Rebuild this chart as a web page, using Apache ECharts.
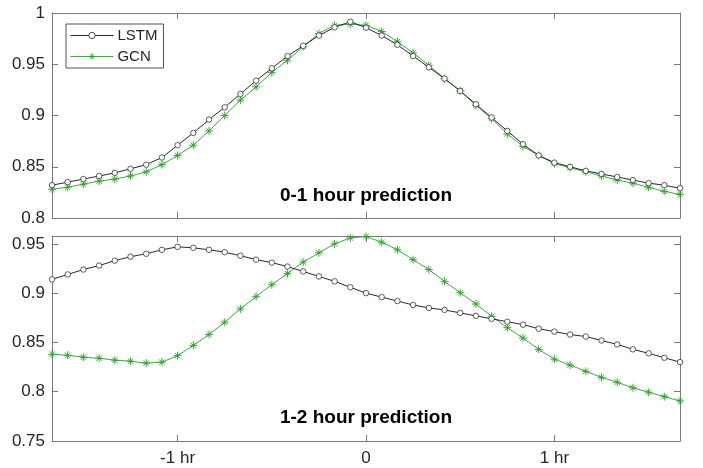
<!DOCTYPE html>
<html>
<head>
<meta charset="utf-8">
<script src="https://cdn.jsdelivr.net/npm/echarts@6/dist/echarts.min.js"></script>
<style>html,body{margin:0;padding:0;background:#fff;}#c{width:703px;height:468px;}</style>
</head>
<body>
<div id="c"></div>
<script>
// time steps (5-minute steps, -20..20)
var steps = [];
for (var s = -20; s <= 20; s++) steps.push(String(s));
var xTickSteps = ['-12', '0', '12'];
var xTickLabels = ['-1 hr', '0', '1 hr'];

var lstm01 = [0.832,0.835,0.838,0.841,0.844,0.848,0.852,0.859,0.871,0.883,0.896,0.908,0.921,0.934,0.946,0.958,0.968,0.978,0.986,0.9915,
  0.9857,0.978,0.969,0.958,0.947,0.936,0.924,0.911,0.898,0.885,0.872,0.861,0.854,0.850,0.846,0.843,0.840,0.837,0.834,0.832,0.829];
var gcn01 = [0.828,0.830,0.833,0.836,0.838,0.841,0.845,0.852,0.861,0.871,0.885,0.900,0.915,0.928,0.942,0.954,0.967,0.980,0.988,0.989,
  0.988,0.982,0.972,0.961,0.949,0.936,0.924,0.910,0.897,0.882,0.870,0.861,0.853,0.849,0.845,0.841,0.837,0.834,0.830,0.826,0.823];
var lstm12 = [0.914,0.919,0.924,0.928,0.933,0.937,0.940,0.944,0.947,0.946,0.944,0.9416,0.938,0.934,0.931,0.927,0.922,0.917,0.912,0.906,
  0.900,0.896,0.892,0.888,0.885,0.883,0.880,0.877,0.874,0.871,0.868,0.864,0.861,0.858,0.856,0.852,0.848,0.843,0.839,0.8345,0.830];
var gcn12 = [0.838,0.837,0.835,0.834,0.832,0.831,0.829,0.830,0.8365,0.847,0.858,0.8705,0.884,0.8965,0.9086,0.920,0.9315,0.941,0.950,0.956,
  0.9575,0.9517,0.944,0.934,0.924,0.912,0.9005,0.889,0.8766,0.865,0.8544,0.843,0.833,0.827,0.8207,0.8146,0.8096,0.804,0.7995,0.795,0.7907];

var panelTitles = ['0-1 hour prediction', '1-2 hour prediction'];
var seriesNames = ['LSTM', 'GCN'];

var AX = '#7a7a7a', TXT = '#262626', GREEN = '#2e9e2e', FONT = 'Liberation Sans, Arial, sans-serif';
var star = 'path://M0,5L10,5M5,0L5,10M1.6,1.6L8.4,8.4M1.6,8.4L8.4,1.6';

function isTick(i, v) { return xTickSteps.indexOf(String(v)) >= 0; }
function xAxis(gi, pos, labels) {
  return {
    type: 'category', gridIndex: gi, position: pos, data: steps, boundaryGap: false,
    axisLine: {show: true, lineStyle: {color: AX, width: 1}},
    axisTick: {show: true, inside: true, length: 6, interval: isTick, lineStyle: {color: AX}},
    axisLabel: {show: labels, interval: isTick, color: TXT, fontSize: 17, fontFamily: FONT, margin: 9,
      formatter: function (v) { return xTickLabels[xTickSteps.indexOf(v)]; }},
    splitLine: {show: false}
  };
}
function yAxis(gi, pos, labels, mn, mx) {
  return {
    type: 'value', gridIndex: gi, position: pos, min: mn, max: mx, interval: 0.05,
    axisLine: {show: true, lineStyle: {color: AX, width: 1}},
    axisTick: {show: true, inside: true, length: 6, lineStyle: {color: AX}},
    axisLabel: {show: labels, color: TXT, fontSize: 17, fontFamily: FONT, margin: 7, showMaxLabel: mx === 1},
    splitLine: {show: false}
  };
}
function lstmSeries(xi, data) {
  return {name: seriesNames[0], type: 'line', xAxisIndex: xi, yAxisIndex: xi, data: data,
    symbol: 'circle', symbolSize: 5.5, showAllSymbol: true,
    lineStyle: {color: '#111', width: 0.9}, itemStyle: {color: '#fff', borderColor: '#333', borderWidth: 0.8},
    emphasis: {disabled: true}, z: 3, animation: false};
}
function gcnSeries(xi, data) {
  return {name: seriesNames[1], type: 'line', xAxisIndex: xi, yAxisIndex: xi, data: data,
    symbol: star, symbolSize: 8, showAllSymbol: true,
    lineStyle: {color: GREEN, width: 0.9}, itemStyle: {color: GREEN, borderColor: GREEN, borderWidth: 0.9},
    emphasis: {disabled: true}, z: 2, animation: false};
}

var chart = echarts.init(document.getElementById('c'), null, {renderer: 'canvas'});
chart.setOption({
  animation: false,
  backgroundColor: '#fff',
  grid: [
    {left: 52, right: 23, top: 13, height: 205},
    {left: 52, right: 23, top: 236, height: 205}
  ],
  xAxis: [xAxis(0, 'bottom', false), xAxis(1, 'bottom', true), xAxis(0, 'top', false), xAxis(1, 'top', false)],
  yAxis: [yAxis(0, 'left', true, 0.8, 1), yAxis(1, 'left', true, 0.75, 0.958), yAxis(0, 'right', false, 0.8, 1), yAxis(1, 'right', false, 0.75, 0.958)],
  legend: {
    show: true, orient: 'vertical', left: 66, top: 24, data: seriesNames,
    itemWidth: 43, itemHeight: 8, itemGap: 6, padding: [4, 6, 4, 4],
    borderColor: '#262626', borderWidth: 0.8, backgroundColor: '#fff',
    lineStyle: {width: 0.9},
    itemStyle: {borderWidth: 0.9, borderColor: 'inherit'},
    textStyle: {color: TXT, fontSize: 15, fontFamily: FONT, padding: [0, 0, 0, -1], lineHeight: 15},
    selectedMode: false
  },
  graphic: [
    {type: 'text', x: 366, y: 196, style: {text: panelTitles[0], fill: '#000', font: 'bold 19px ' + FONT, textAlign: 'center', textVerticalAlign: 'middle'}},
    {type: 'text', x: 366, y: 418, style: {text: panelTitles[1], fill: '#000', font: 'bold 19px ' + FONT, textAlign: 'center', textVerticalAlign: 'middle'}}
  ],
  series: [lstmSeries(0, lstm01), gcnSeries(0, gcn01), lstmSeries(1, lstm12), gcnSeries(1, gcn12)]
});
</script>
</body>
</html>
